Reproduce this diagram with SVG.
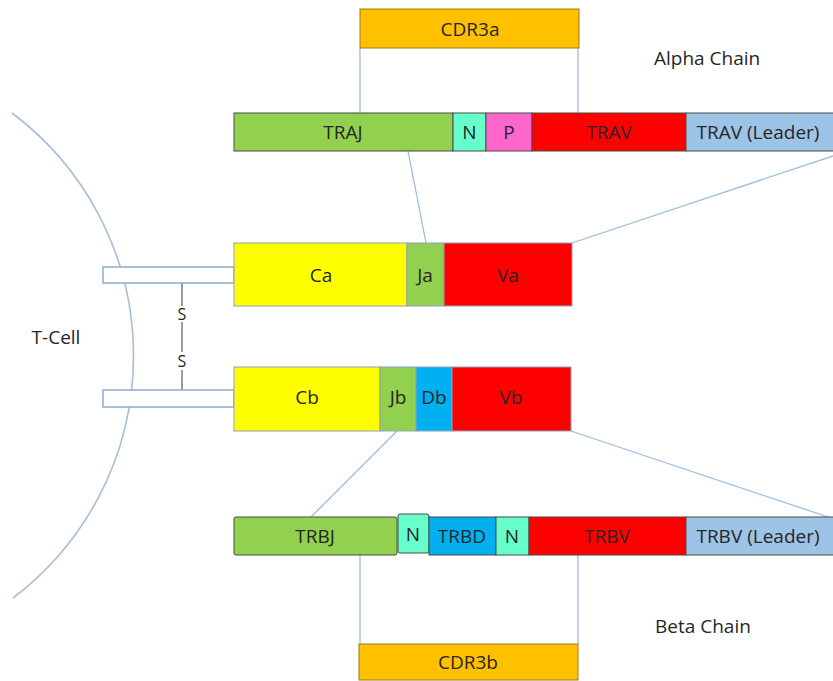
<svg xmlns="http://www.w3.org/2000/svg" width="833" height="681" viewBox="0 0 833 681">
<style>
text{font-family:"Open Sans","Liberation Sans",sans-serif;font-size:19px;fill:#262626;text-anchor:middle;dominant-baseline:central}
.lbl{text-anchor:start}
.seg{stroke:#4a4a4a;stroke-width:1}
.dom{stroke:#8ea2bd;stroke-width:1}
.cdr{fill:#FFC000;stroke:#9c7a1a;stroke-width:1}
.stub{fill:#fff;stroke:#8faad0;stroke-width:1.5}
.ln{stroke:#9dbde0;stroke-width:1.3;fill:none}
</style>
<rect width="833" height="681" fill="#fff"/>
<g id="cell">
<path d="M12,113 A303.5,303.5 0 0 1 13,598" fill="none" stroke="#a9bdd9" stroke-width="1.6"/>
<text x="56" y="337">T-Cell</text>
</g>
<g id="connectors">
<line class="ln" x1="360" y1="48" x2="360" y2="113"/>
<line class="ln" x1="578" y1="48" x2="578" y2="113"/>
<line class="ln" x1="408" y1="151" x2="426" y2="243"/>
<line class="ln" x1="572" y1="243" x2="848" y2="151"/>
<line class="ln" x1="397" y1="431" x2="311" y2="517"/>
<line class="ln" x1="571" y1="431" x2="840" y2="521"/>
<line class="ln" x1="360" y1="555" x2="360" y2="644"/>
<line class="ln" x1="578" y1="555" x2="578" y2="644"/>
<line x1="182" y1="283" x2="182" y2="306" stroke="#555" stroke-width="1.2"/>
<line x1="182" y1="322" x2="182" y2="352" stroke="#555" stroke-width="1.2"/>
<line x1="182" y1="370" x2="182" y2="390" stroke="#555" stroke-width="1.2"/>
</g>
<g id="disulfide">
<text x="182" y="314" style="font-size:16px">S</text>
<text x="182" y="361" style="font-size:16px">S</text>
</g>
<g id="cdr3a"><rect class="cdr" x="360" y="9" width="219" height="39"/><text x="470" y="29">CDR3a</text></g>
<text class="lbl" x="654" y="58">Alpha Chain</text>
<g id="alpha-gene">
<g id="TRAJ"><rect class="seg" x="234" y="113" width="219" height="38" fill="#92D050"/><text x="343" y="132">TRAJ</text></g>
<g id="Na"><rect class="seg" x="453" y="113" width="33" height="38" fill="#66FFCC"/><text x="469.5" y="132">N</text></g>
<g id="P"><rect class="seg" x="486" y="113" width="46" height="38" fill="#FF66CC"/><text x="509" y="132">P</text></g>
<g id="TRAV"><rect class="seg" x="532" y="113" width="154" height="38" fill="#FF0000"/><text x="609" y="132">TRAV</text></g>
<g id="TRAVL"><rect class="seg" x="686" y="113" width="160" height="38" fill="#9DC3E6"/><text x="758" y="132">TRAV (Leader)</text></g>
</g>
<g id="alpha-protein">
<rect class="stub" x="103" y="267" width="131" height="16"/>
<g id="Ca"><rect class="dom" x="234" y="243" width="173" height="63" fill="#FFFF00"/><text x="321" y="275">Ca</text></g>
<g id="Ja"><rect class="dom" x="407" y="243" width="37" height="63" fill="#92D050"/><text x="425" y="275">Ja</text></g>
<g id="Va"><rect class="dom" x="444" y="243" width="128" height="63" fill="#FF0000"/><text x="508" y="275">Va</text></g>
</g>
<g id="beta-protein">
<rect class="stub" x="103" y="390" width="131" height="17"/>
<g id="Cb"><rect class="dom" x="234" y="367" width="146" height="64" fill="#FFFF00"/><text x="307" y="397">Cb</text></g>
<g id="Jb"><rect class="dom" x="380" y="367" width="36" height="64" fill="#92D050"/><text x="398" y="397">Jb</text></g>
<g id="Db"><rect class="dom" x="416" y="367" width="36" height="64" fill="#00B0F0"/><text x="434" y="397">Db</text></g>
<g id="Vb"><rect class="dom" x="452" y="367" width="119" height="64" fill="#FF0000"/><text x="511" y="397">Vb</text></g>
</g>
<g id="beta-gene">
<g id="TRBJ"><rect class="seg" x="234" y="517" width="163" height="38" rx="2" fill="#92D050"/><text x="315" y="536">TRBJ</text></g>
<g id="Nb1"><rect class="seg" x="398" y="514" width="31" height="39" rx="2" fill="#66FFCC"/><text x="413" y="534">N</text></g>
<g id="TRBD"><rect class="seg" x="429" y="517" width="67" height="38" fill="#00B0F0"/><text x="462" y="536">TRBD</text></g>
<g id="Nb2"><rect class="seg" x="496" y="517" width="33" height="38" fill="#66FFCC"/><text x="512" y="536">N</text></g>
<g id="TRBV"><rect class="seg" x="529" y="517" width="157" height="38" fill="#FF0000"/><text x="607" y="536">TRBV</text></g>
<g id="TRBVL"><rect class="seg" x="686" y="517" width="160" height="38" fill="#9DC3E6"/><text x="758" y="536">TRBV (Leader)</text></g>
</g>
<text class="lbl" x="655" y="626">Beta Chain</text>
<g id="cdr3b"><rect class="cdr" x="359" y="644" width="219" height="36"/><text x="468" y="662">CDR3b</text></g>
</svg>
